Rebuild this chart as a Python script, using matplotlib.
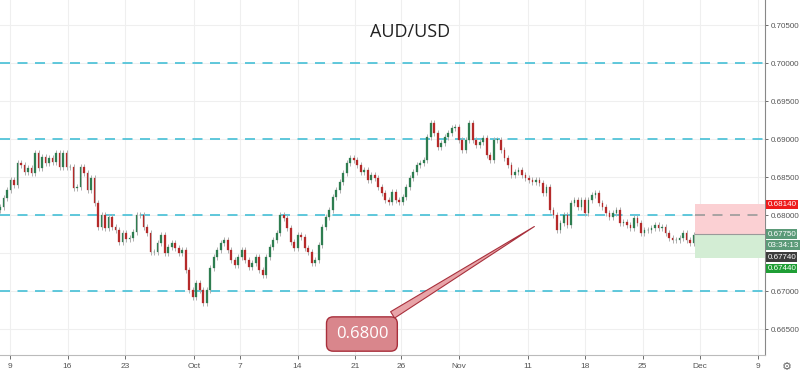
import matplotlib
matplotlib.use('Agg')
import matplotlib.pyplot as plt
from matplotlib.patches import Rectangle
import numpy as np

# close prices, read left to right off the chart
closes = [
    0.6811, 0.6822, 0.6833, 0.6846, 0.6839, 0.6868, 0.6866, 0.6857, 0.6862, 0.6855,
    0.6882, 0.6862, 0.6876, 0.6868, 0.6875, 0.6870, 0.6882, 0.6863, 0.6882, 0.6863,
    0.6863, 0.6836, 0.6837, 0.6863, 0.6855, 0.6833, 0.6849, 0.6816, 0.6784, 0.6800,
    0.6783, 0.6797, 0.6784, 0.6780, 0.6764, 0.6776, 0.6768, 0.6770, 0.6778, 0.6800,
    0.6800, 0.6784, 0.6776, 0.6751, 0.6751, 0.6763, 0.6774, 0.6750, 0.6758, 0.6763,
    0.6757, 0.6750, 0.6754, 0.6728, 0.6701, 0.6692, 0.6711, 0.6701, 0.6684, 0.6701,
    0.6730, 0.6745, 0.6754, 0.6763, 0.6767, 0.6754, 0.6741, 0.6734, 0.6745, 0.6754,
    0.6741, 0.6732, 0.6737, 0.6745, 0.6728, 0.6721, 0.6745, 0.6758, 0.6767, 0.6776,
    0.6800, 0.6796, 0.6783, 0.6764, 0.6757, 0.6774, 0.6771, 0.6757, 0.6751, 0.6737,
    0.6741, 0.6761, 0.6784, 0.6797, 0.6807, 0.6824, 0.6833, 0.6843, 0.6855, 0.6868,
    0.6875, 0.6872, 0.6866, 0.6857, 0.6859, 0.6846, 0.6853, 0.6849, 0.6837, 0.6829,
    0.6820, 0.6817, 0.6830, 0.6820, 0.6817, 0.6824, 0.6837, 0.6849, 0.6857, 0.6866,
    0.6868, 0.6872, 0.6903, 0.6921, 0.6908, 0.6889, 0.6895, 0.6903, 0.6908, 0.6914,
    0.6916, 0.6899, 0.6886, 0.6899, 0.6921, 0.6899, 0.6892, 0.6896, 0.6901, 0.6879,
    0.6872, 0.6899, 0.6899, 0.6886, 0.6875, 0.6866, 0.6853, 0.6857, 0.6859, 0.6853,
    0.6849, 0.6846, 0.6843, 0.6846, 0.6842, 0.6829, 0.6837, 0.6807, 0.6800, 0.6780,
    0.6789, 0.6800, 0.6787, 0.6816, 0.6820, 0.6811, 0.6820, 0.6803, 0.6820, 0.6826,
    0.6829, 0.6816, 0.6811, 0.6803, 0.6797, 0.6803, 0.6807, 0.6789, 0.6791, 0.6787,
    0.6783, 0.6796, 0.6789, 0.6776, 0.6780, 0.6780, 0.6783, 0.6787, 0.6783, 0.6784,
    0.6776, 0.6770, 0.6767, 0.6767, 0.6770, 0.6776, 0.6767, 0.6763, 0.6774, 0.6775,
]
first_open = 0.6806

# time axis in trading days from Sep 9
t_first, t_last = -0.87, 59.74
date_pos = [0, 5, 10, 16, 20, 25, 30, 34, 39, 45, 50, 55, 60, 65]
date_labels = ['9', '16', '23', 'Oct', '7', '14', '21', '26', 'Nov', '11', '18', '25', 'Dec', '9']

price_ticks = [0.665, 0.670, 0.675, 0.680, 0.685, 0.690, 0.695, 0.700, 0.705]
levels = [0.670, 0.680, 0.690, 0.700]

entry, stop, target = 0.6775, 0.6814, 0.6744
callout_text = '0.6800'

plt.rcParams['font.family'] = ['Liberation Sans', 'DejaVu Sans']

fig = plt.figure(figsize=(8, 3.77), dpi=100)
ax = fig.add_axes([0, 22 / 377, 765 / 800, 355 / 377])

xs = np.linspace(t_first, t_last, len(closes))
opens = [first_open] + closes[:-1]
step = xs[1] - xs[0]
wick = 0.0004
for x, o, c in zip(xs, opens, closes):
    up = c >= o
    col = '#2e7d50' if up else '#b52a2a'
    ax.vlines(x, min(o, c) - wick, max(o, c) + wick, color='#b0b0b0', lw=0.7, zorder=2)
    ax.add_patch(Rectangle((x - step * 0.25, min(o, c)), step * 0.5,
                           max(abs(c - o), 0.00005), fc=col, ec=col, lw=0.2, zorder=3))

xl = (-0.87, 65.65)
ax.set_xlim(*xl)
ax.set_ylim(0.66158, 0.70829)

# grid
for p in date_pos:
    ax.axvline(p, color='#efefef', lw=0.8, zorder=0)
for p in price_ticks:
    ax.axhline(p, color='#efefef', lw=0.8, zorder=0)

# dashed levels
box_x = 59.6
for lv in levels:
    end = box_x if lv == 0.680 else xl[1]
    ln, = ax.plot([xl[0], end], [lv, lv], color='#45bfd6', lw=1.2, zorder=1)
    ln.set_dashes((6, 4.5))

# position box
ax.add_patch(Rectangle((box_x, entry), xl[1] - box_x, stop - entry, fc='#fbd0d3', ec='none', zorder=4))
ax.add_patch(Rectangle((box_x, target), xl[1] - box_x, entry - target, fc='#d3edd4', ec='none', zorder=4))
ax.plot([box_x, xl[1]], [entry, entry], color='#9a9a9a', lw=0.8, zorder=5)
ln, = ax.plot([box_x, xl[1]], [0.680, 0.680], color='#9a9a9a', lw=1.2, zorder=5)
ln.set_dashes((6, 4.5))

# callout
ax.annotate(callout_text, xy=(45.8, 0.67868), xytext=(30.6, 0.66434),
            ha='center', va='center', fontsize=12, color='white', zorder=6,
            family=['Open Sans', 'DejaVu Sans'],
            bbox=dict(boxstyle='round,pad=0.55,rounding_size=0.4', fc='#d9868c', ec='#a8303c', lw=1),
            arrowprops=dict(arrowstyle='wedge,tail_width=0.45,shrink_factor=0.5',
                            fc='#e8a4a8', ec='#a8303c', lw=0.8))

# axes styling
for s in ['top', 'left']:
    ax.spines[s].set_visible(False)
ax.spines['right'].set_color('#888888')
ax.spines['bottom'].set_color('#bbbbbb')
ax.yaxis.tick_right()
ax.set_yticks(price_ticks)
# the 0.675 label sits under the position tags
ax.set_yticklabels(['' if p == 0.675 else f'{p:.5f}' for p in price_ticks])
ax.tick_params(axis='y', labelsize=5.8, colors='#555555', length=2.5, width=0.6, pad=1.5)
ax.set_xticks(date_pos)
ax.set_xticklabels(date_labels)
ax.tick_params(axis='x', labelsize=6, colors='#555555', length=3, width=0.6, pad=3)

# price labels on the scale
def tag(price_y, txt, col):
    ax.text(1.003, price_y, txt, transform=ax.get_yaxis_transform(), fontsize=5.8,
            color='white', va='center', ha='left', zorder=10, clip_on=False,
            bbox=dict(boxstyle='square,pad=0.15', fc=col, ec='none'))

tag(stop, '0.68140', '#ee1c1c')
tag(entry, '0.67750', '#5b9a78')
tag(0.67605, '03:34:13', '#5b9a78')
tag(0.67447, '0.67740', '#3c3c3c')
tag(0.67296, '0.67440', '#1f9e35')

fig.text(410 / 800, 1 - 32 / 377, 'AUD/USD', ha='center', va='center', fontsize=13,
         color='#222222', family=['Open Sans', 'DejaVu Sans'])
fig.text(787 / 800, 1 - 367 / 377, '\u2699', ha='center', va='center', fontsize=8,
         color='#666666', family=['DejaVu Sans'])

fig.savefig('out.png', dpi=100)
